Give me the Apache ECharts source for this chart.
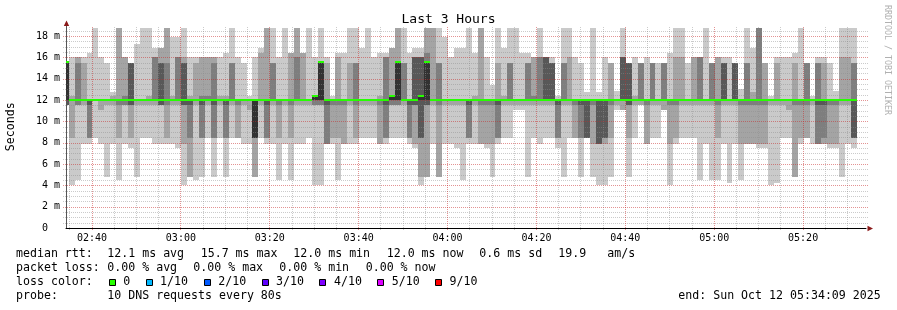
<!DOCTYPE html>
<html><head><meta charset="utf-8">
<script src="https://cdn.jsdelivr.net/npm/echarts@6/dist/echarts.min.js"></script>
<style>html,body{margin:0;padding:0;background:#fff}#c{width:897px;height:310px}</style>
</head><body><div id="c"></div>
<script>
// ---- data (times in seconds of day, values in ms) ----
const startTime = 9249;        // 02:34:09
const endTime = 20049;         // 05:34:09
const firstColumnEnd = 9280;   // 02:34:40
const stepSeconds = 80;
const yMax = 19;

const ping1 = [
11.5,4.0,4.5,7.9,7.9,8.4,7.9,4.8,7.9,4.5,
7.9,7.5,4.8,8.4,8.4,7.9,7.9,7.9,7.9,7.5,
4.0,4.8,4.5,4.8,8.4,4.8,8.4,4.8,8.4,8.4,
7.9,7.9,4.8,8.4,7.9,7.9,4.5,7.9,4.5,7.9,
7.9,8.4,4.0,4.0,7.9,7.9,4.5,7.9,7.9,7.9,
8.4,8.4,8.4,7.9,7.9,8.4,8.4,8.4,7.9,7.5,
4.0,4.8,7.9,4.8,7.9,7.9,7.5,4.5,7.9,7.9,
7.9,7.5,4.8,7.9,8.4,8.4,11.1,11.1,4.8,8.4,
7.9,8.4,8.4,7.5,4.8,8.4,8.4,4.8,8.4,4.8,
4.0,4.0,4.8,11.1,11.1,4.8,8.4,11.5,7.9,8.4,
8.4,11.1,4.0,7.9,8.4,8.4,8.4,4.5,7.9,4.5,
4.5,7.9,4.2,7.9,4.5,7.9,7.9,7.5,7.5,4.0,
4.2,8.4,8.4,4.8,7.9,8.4,7.9,7.9,7.9,7.5,
7.5,4.8,7.9,7.5];
const ping2 = [
11.5,8.4,11.5,11.5,8.4,12,11.1,11.5,11.5,8.4,
11.5,8.4,11.5,11.5,11.5,11.5,11.5,8.4,11.5,11.5,
7.9,4.8,11.5,8.4,11.5,8.4,11.5,8.4,11.5,8.4,
11.5,11.1,4.8,11.5,8.4,11.5,8.4,11.5,8.4,11.5,
11.5,11.5,11.5,11.5,7.9,8.4,8.4,7.9,11.5,8.4,
11.5,11.5,11.5,7.9,8.4,11.5,11.5,11.5,8.4,7.9,
4.8,4.8,11.5,4.8,11.5,11.5,11.5,11.5,8.4,11.5,
7.9,7.9,7.9,8.4,11.5,11.5,11.5,11.5,11.5,11.5,
11.5,11.5,11.5,8.4,11.5,11.5,8.4,8.4,8.4,7.9,
7.9,7.9,8.4,11.5,11.1,8.4,11.5,11.5,7.9,11.5,
11.5,11.1,7.9,8.4,11.5,11.5,11.5,11.5,11.5,11.5,
8.4,11.5,11.5,11.5,7.9,7.9,7.9,7.9,7.9,11.5,
11.5,11.5,11.1,4.8,8.4,8.4,11.5,7.9,7.9,7.9,
7.9,11.5,11.5,8.4];
const ping3 = [
11.5,12,11.5,12,8.4,12,12,12,12,11.5,
11.5,11.5,12,12,12,12,11.5,11.5,12,12,
11.5,8.4,12,8.4,12,8.4,12,8.4,12,11.5,
12,12,8.4,12,8.4,12,11.5,12,11.5,12,
12,12,11.5,11.5,7.9,11.5,11.5,11.5,12,11.5,
12,12,12,11.5,8.4,11.5,11.5,12,8.4,11.5,
8.4,11.5,12,11.5,12,12,12,12,8.4,12,
11.5,11.5,11.5,8.4,12,12,12,12,12,12,
12,12,12,8.4,12,12,11.5,8.4,8.4,11.5,
7.9,8.4,11.5,12,12,11.5,12,12,11.5,12,
12,12,11.5,11.5,12,12,12,12,12,12,
11.5,12,12,12,11.5,11.5,11.5,11.5,11.5,12,
12,12,12,11.5,11.5,11.5,12,7.9,8.4,11.5,
11.5,12,12,8.4];
const ping4 = [
11.5,12,12,12,11.5,12,12,12,12,12,
12,11.5,12,12,12,12,11.5,12,12,12,
11.5,11.5,12,11.5,12,11.5,12,11.5,12,12,
12,12,8.4,12,11.5,12,12,12,12,12,
12,12,12,12,11.5,12,12,12,12,12,
12,12,12,12,11.5,12,12,12,11.5,11.5,
8.4,11.5,12,12,12,12,12,12,11.5,12,
12,12,12,11.5,12,12,12,12,12,12,
12,12,12,11.5,12,12,12,11.5,8.4,12,
7.9,8.4,12,12,12,11.5,12,12,12,12,
12,12,12,12,12,12,12,12,12,12,
12,12,12,12,12,12,12,12,12,12,
12,12,12,12,12,12,12,11.5,11.5,12,
12,12,12,8.4];
const ping5 = [
12,12,12,12,12,12,12,12,12,12,
12,12,12,12,12,12,12,12,12,12,
12,12,12,12,12,12,12,12,12,12,
12,12,8.4,12,12,12,12,12,12,12,
12,12,12,12,12,12,12,12,12,12,
12,12,12,12,12,12,12,12,12,12,
12,12,12,12,12,12,12,12,12,12,
12,12,12,12,12,12,12,12,12,12,
12,12,12,12,12,12,12,12,12,12,
12,12,12,12,12,12,12,12,12,12,
12,12,12,12,12,12,12,12,12,12,
12,12,12,12,12,12,12,12,12,12,
12,12,12,12,12,12,12,12,12,12,
12,12,12,12];
const ping6 = [
15.6,12,12,12,12,12,12,12,12,12,
12,12,12,12,12,12,12,12,12,12,
12,12,12,12,12,12,12,12,12,12,
12,12,12,12,12,12,12,12,12,12,
12,12,12.4,15.6,12,12,12,12,12,12,
12,12,12,12,12,12.4,15.6,12,12,12,
12.4,15.6,12,12,12,12,12,12,12,12,
12,12,12,12,12,12,12,12,12,12,
12,12,12,12,12,12,12,12,12,12,
12,12,12,12,12,12,12,12,12,12,
12,12,12,12,12,12,12,12,12,12,
12,12,12,12,12,12,12,12,12,12,
12,12,12,12,12,12,12,12,12,12,
12,12,12,12];
const ping7 = [
15.6,12,12,12,12,12,12,12,12,12,
12,15.5,12,12,12,12,15.5,12,12,12,
15.5,12,12,12,12,12,12,12,12,12,
12,12,12,12,12,12,12,12,12,12,
12,12,12.4,15.6,12,12,12,12,12,12,
12,12,12,12,12,12.4,15.6,12,12,16,
16,15.6,12,12,12,12,12,12,12,12,
12,12,12,12,12,12,12,12,12,12,
12,16,15.5,12,12,12,12,12,12,12,
12,12,12,12,16,15.5,12,12,12,12,
12,12,12,12,12,12,12,12,12,12,
12,15.5,12,15.5,12,12,12,12,12,12,
12,12,12,12,12,12,12,12,12,12,
12,12,12,12];
const ping8 = [
15.6,12,15.5,12,12,12,12,12,12,12,
12.4,15.5,12,12,12,16,15.5,15.5,12,16,
15.5,12,12,12.4,12.4,15.5,12,12,15.5,12,
12,12,12,12,12,15.5,12,12,12,16,
12,12,12.4,15.6,12,12,12,12,12,15.5,
12,12,12,12,16,12.4,15.6,15.5,12,16,
16,16.4,12,15.5,12,12,12,12,12,12,
12,12,12,12,12,15.5,12,12,15.5,12.4,
16,16,15.5,12,15.5,12,12,12,12,12,
12,12,12,12,16,15.5,12,15.5,12,15.5,
12,15.5,12,12,12,12,12,16,12,15.5,
12,15.5,12,15.5,12,15.5,12,18.8,12,12,
12,12,12,12,12,15.5,12,15.5,12,12,
12,12,12,15.5];
const ping9 = [
15.6,12.4,16,15.5,12,12,12,12,12.4,18.8,
16,15.5,12,12,12.4,16,16.9,18.8,12.4,16,
16,12.4,15.5,16,16,16,12.4,12.4,15.5,12,
12,12,12,16.4,18.8,15.5,12,12,16.4,18.8,
16.4,12,12.4,15.6,15.5,12,16,12,15.5,15.5,
12,12,12,12.4,16,16.9,18.8,15.5,12,16,
16,18.8,18.8,15.5,12,12,12,12,12,12.4,
18.8,12,12,15.5,12.4,15.5,12,12,15.5,16,
16,16,15.5,12,15.5,16,12,12,12,12,
12,12,15.5,12,16,15.5,12.4,15.5,12,15.5,
12,15.5,12,16,16,12,16,16,12,15.5,
16,15.5,12,15.5,12,15.5,12.8,18.8,15.5,12,
15.5,12,12,15.5,12,15.5,12,15.5,15.5,12,
12,16,16,15.5];
const ping10 = [
15.6,16,16,16,16.4,18.8,16,15.5,12.8,18.8,
16,15.5,17.3,18.8,18.8,16.9,16.9,18.8,17.9,17.9,
18.8,16,16,16,16,16,16,16.4,18.8,16,
15.5,12.4,16,16.9,18.8,18.8,16,18.8,16.4,18.8,
16.4,18.8,16,18.8,16,12.4,16.4,16.4,18.8,18.8,
16.9,18.8,16,16.4,16.4,16.9,18.8,18.8,16.4,16.9,
16.9,18.8,18.8,18.8,17.9,16,16.9,16.9,18.8,16.4,
18.8,16,13.4,18.8,16.9,18.8,18.8,16.4,16.4,16,
18.8,16,16,12.4,18.8,18.8,16,15.5,12.8,18.8,
12.8,16,15.5,12.9,18.8,15.5,16,15.5,16,15.5,
15.5,15.5,16.4,18.8,18.8,15.5,16,16,18.8,15.5,
16,16,16,15.5,13,18.8,16.9,18.8,15.5,12.4,
16,16,16,16.4,18.8,15.5,12.4,16,16,15.5,
12.9,18.8,18.8,18.8];
const medianRtt = [
15.6,12,12,12,12,12,12,12,12,12,
12,12,12,12,12,12,12,12,12,12,
12,12,12,12,12,12,12,12,12,12,
12,12,12,12,12,12,12,12,12,12,
12,12,12.4,15.6,12,12,12,12,12,12,
12,12,12,12,12,12.4,15.6,12,12,12,
12.4,15.6,12,12,12,12,12,12,12,12,
12,12,12,12,12,12,12,12,12,12,
12,12,12,12,12,12,12,12,12,12,
12,12,12,12,12,12,12,12,12,12,
12,12,12,12,12,12,12,12,12,12,
12,12,12,12,12,12,12,12,12,12,
12,12,12,12,12,12,12,12,12,12,
12,12,12,12];

const timeLabels = ['02:40','03:00','03:20','03:40','04:00','04:20','04:40','05:00','05:20'];
const yTickValues = [0,2,4,6,8,10,12,14,16,18];
const lossLabels = ['0','1/10','2/10','3/10','4/10','5/10','9/10'];
const lossColors = ['#26ff00','#00b8ff','#0059ff','#5e00ff','#7e00ff','#dd00ff','#ff0000'];
const smokeColors = ['#cacaca','#a4a4a4','#7e7e7e','#585858','#323232'];
const medianColor = '#26ff00';

const legendLines = [
  {y: 254.3, parts: [[16,'median rtt:'],[107.3,'12.1 ms avg'],[200.7,'15.7 ms max'],[293.3,'12.0 ms min'],[386.7,'12.0 ms now'],[479.3,'0.6 ms sd'],[558.3,'19.9'],[607.3,'am/s']]},
  {y: 268.3, parts: [[16,'packet loss:'],[107.3,'0.00 % avg'],[193.3,'0.00 % max'],[279.3,'0.00 % min'],[365.7,'0.00 % now']]},
  {y: 282.3, parts: [[16,'loss color:']]},
  {y: 296.0, parts: [[16,'probe:'],[107.3,'10 DNS requests every 80s'],[678.3,'end: Sun Oct 12 05:34:09 2025']]}
];
const lossBoxX = [108.7,145.7,203.7,261.7,319.3,377.3,435.3];
const lossTextX = [123.3,160,218.3,276,334,391.7,449.5];

// ---- build ----
const FONT = '"DejaVu Sans Mono", monospace';
const toSec = t => { const [h,m] = t.split(':').map(Number); return h*3600 + m*60; };
const labelSeconds = timeLabels.map(toSec);
const fmt = s => { const h = Math.floor(s/3600), m = Math.round((s%3600)/60); return String(h).padStart(2,'0')+':'+String(m).padStart(2,'0'); };

const columns = ping1.map((_, i) => [
  Math.max(startTime, firstColumnEnd + (i-1)*stepSeconds), firstColumnEnd + i*stepSeconds,
  ping1[i],ping2[i],ping3[i],ping4[i],ping5[i],ping6[i],ping7[i],ping8[i],ping9[i],ping10[i], medianRtt[i]
]);

const vMinorT = [], vMajorT = [];
for (let t = Math.ceil(startTime/300)*300; t < endTime; t += 300) (t % 1200 === 0 ? vMajorT : vMinorT).push(t);
const hMinorV = [], hMajorV = [];
for (let k = 1; k <= 37; k++) (k % 4 === 0 ? hMajorV : hMinorV).push(k / 2);

const minorGrid = 'rgba(140,140,140,0.45)';
const majorGrid = 'rgba(200,40,40,0.5)';

const chart = echarts.init(document.getElementById('c'), null, {renderer: 'canvas', width: 897, height: 310});

function gridRender(params, api) {
  const children = [];
  const x0 = Math.floor(api.coord([startTime, 0])[0]);
  const x1 = Math.floor(api.coord([endTime, 0])[0]);
  const y0 = Math.round(api.coord([startTime, 0])[1]);
  const yT = Math.round(api.coord([startTime, yMax])[1]);
  const dotV = (t, color) => {
    const x = Math.floor(api.coord([t, 0])[0]);
    for (let y = yT + 1; y <= y0 + 2; y += 2) children.push({type: 'rect', shape: {x: x, y: y, width: 1, height: 1}, style: {fill: color}});
  };
  const dotH = (v, color) => {
    const y = Math.round(api.coord([startTime, v])[1]);
    for (let x = x0 - 3; x <= x1 + 1; x += 2) children.push({type: 'rect', shape: {x: x, y: y, width: 1, height: 1}, style: {fill: color}});
  };
  hMinorV.forEach(v => dotH(v, minorGrid));
  vMinorT.forEach(t => dotV(t, minorGrid));
  hMajorV.forEach(v => dotH(v, majorGrid));
  vMajorT.forEach(t => dotV(t, majorGrid));
  return {type: 'group', children};
}

const option = {
  animation: false,
  backgroundColor: '#ffffff',
  title: {text: 'Last 3 Hours', left: 'center', top: 13.5, padding: 0,
    textStyle: {fontFamily: FONT, fontSize: 13, fontWeight: 'normal', color: '#000'}},
  grid: {left: 66, right: 31, top: 25.5, bottom: 82, containLabel: false, outerBoundsMode: 'none'},
  xAxis: {type: 'value', min: startTime, max: endTime,
    axisLine: {show: true, lineStyle: {color: '#000', width: 1}},
    axisTick: {show: false}, splitLine: {show: false},
    axisLabel: {customValues: labelSeconds, formatter: v => fmt(v), margin: 5,
      fontFamily: FONT, fontSize: 10, color: '#000'}},
  yAxis: {type: 'value', min: 0, max: yMax,
    name: 'Seconds', nameLocation: 'middle', nameGap: 49, nameRotate: 90,
    nameTextStyle: {fontFamily: FONT, fontSize: 11.6, color: '#000'},
    axisLine: {show: true, lineStyle: {color: '#555', width: 1}},
    axisTick: {show: false}, splitLine: {show: false},
    axisLabel: {customValues: yTickValues, margin: 6, fontFamily: FONT, fontSize: 10, color: '#000',
      formatter: v => v === 0 ? '0  ' : v + ' m'}},
  series: [
    {type: 'custom', name: 'smoke', z: 2, data: columns, clip: true,
      encode: {x: [0,1], y: [2,3,4,5,6,7,8,9,10,11,12]},
      renderItem: (params, api) => {
        const t0 = api.value(0), t1 = api.value(1);
        const xa = Math.ceil(api.coord([t0, 0])[0]);
        const xb = Math.ceil(api.coord([t1, 0])[0]);
        const yOf = v => Math.round(api.coord([t0, v])[1]);
        const children = [];
        for (let k = 0; k < 5; k++) {
          const lo = api.value(2 + k), hi = api.value(11 - k);
          const ya = yOf(hi), yb = yOf(lo);
          if (yb - ya > 0) children.push({type: 'rect', shape: {x: xa, y: ya, width: xb - xa, height: yb - ya}, style: {fill: smokeColors[k]}});
        }
        return {type: 'group', children};
      }},
    {type: 'custom', name: 'grid', z: 3, data: [[startTime, 0]], silent: true, encode: {x: 0, y: 1}, renderItem: gridRender},
    {type: 'custom', name: 'median', z: 4, data: columns, clip: true,
      encode: {x: [0,1], y: 12},
      renderItem: (params, api) => {
        const t0 = api.value(0), t1 = api.value(1);
        const xa = Math.ceil(api.coord([t0, 0])[0]);
        const xb = Math.ceil(api.coord([t1, 0])[0]);
        const ym = Math.round(api.coord([t0, api.value(12)])[1]);
        return {type: 'rect', shape: {x: xa, y: ym - 1, width: xb - xa, height: 2}, style: {fill: medianColor}};
      }}
  ]
};
chart.setOption(option);

// decorations: arrows, legend, watermark
const origin = chart.convertToPixel({gridIndex: 0}, [startTime, 0]);
const corner = chart.convertToPixel({gridIndex: 0}, [endTime, yMax]);
const arrowColor = '#8b1a1a';
const graphic = [
  {type: 'polygon', shape: {points: [[origin[0] + 0.5, corner[1] - 5], [origin[0] - 2.2, corner[1] + 0.5], [origin[0] + 3.2, corner[1] + 0.5]]}, style: {fill: arrowColor}, z: 10},
  {type: 'polygon', shape: {points: [[corner[0] + 7, origin[1] + 0.5], [corner[0] + 1.5, origin[1] - 2.2], [corner[0] + 1.5, origin[1] + 3.2]]}, style: {fill: arrowColor}, z: 10},
  {type: 'text', x: 887.5, y: 5, rotation: -Math.PI / 2, z: 10,
    style: {text: 'RRDTOOL / TOBI OETIKER', font: '8.3px ' + FONT, fill: '#b0b0b0', textAlign: 'left', textVerticalAlign: 'middle'}}
];
legendLines.forEach(line => line.parts.forEach(([x, txt]) => graphic.push(
  {type: 'text', x: x, y: line.y, z: 10, style: {text: txt, font: '11.6px ' + FONT, fill: '#000', textAlign: 'left', textVerticalAlign: 'middle'}})));
lossLabels.forEach((lab, i) => {
  graphic.push({type: 'rect', shape: {x: Math.round(lossBoxX[i]) + 0.5, y: 279.5, width: 6, height: 6}, style: {fill: lossColors[i], stroke: '#000', lineWidth: 1}, z: 10});
  graphic.push({type: 'text', x: lossTextX[i], y: 282.3, z: 10, style: {text: lab, font: '11.6px ' + FONT, fill: '#000', textAlign: 'left', textVerticalAlign: 'middle'}});
});
chart.setOption({graphic});
</script></body></html>
